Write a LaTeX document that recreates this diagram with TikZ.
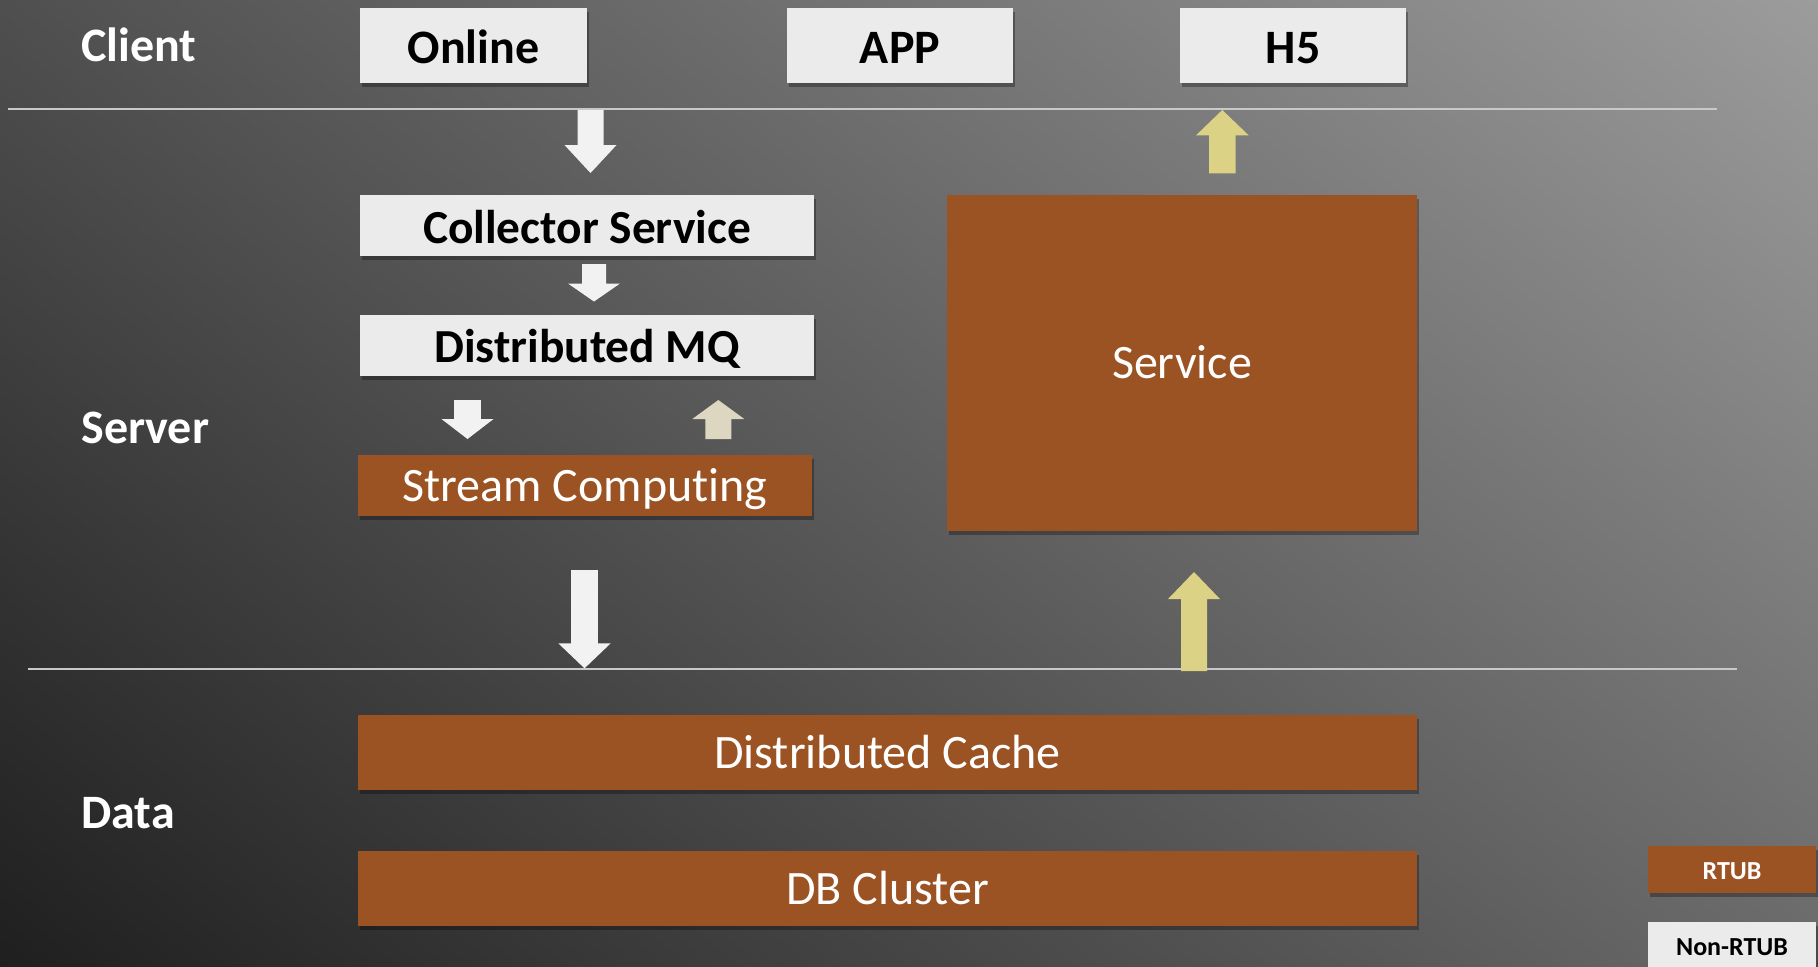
\documentclass[tikz,border=0pt]{standalone}
\usepackage{fontspec}
\setmainfont{Carlito}[Ligatures={NoCommon,NoRare}]
\usetikzlibrary{shadows,shadings}
\definecolor{bgTL}{HTML}{4F4F4F}
\definecolor{bgTR}{HTML}{9C9C9C}
\definecolor{bgBL}{HTML}{1F1F1F}
\definecolor{bgBR}{HTML}{6A6A6A}
\definecolor{rtub}{HTML}{9C5324}
\definecolor{nonrtub}{HTML}{EBEBEB}
\definecolor{warrow}{HTML}{F2F2F2}
\definecolor{yarrow}{HTML}{DCD285}
\definecolor{barrow}{HTML}{DDD7C2}
\definecolor{sepline}{HTML}{C9C9C9}
\newcommand{\blockarrow}[7]{% color, cx, ytail, yheadbase, ytip, shaft half, head half
  \fill[#1] ({#2-#6},#3) -- ({#2+#6},#3) -- ({#2+#6},#4) -- ({#2+#7},#4) -- (#2,#5)
    -- ({#2-#7},#4) -- ({#2-#6},#4) -- cycle;}
\tikzset{
  boxbase/.style={inner sep=0pt, outer sep=0pt, text depth=0pt,
    drop shadow={shadow xshift=0.8pt, shadow yshift=-2.2pt, opacity=0.3, fill=black}},
  lightbox/.style={boxbase, fill=nonrtub, text=black, font=\bfseries\fontsize{24}{28}\selectfont},
  brownbox/.style={boxbase, fill=rtub, text=white, font=\fontsize{24}{28}\selectfont},
  tierlabel/.style={anchor=base west, inner sep=0pt, text=white, font=\bfseries\fontsize{24}{28}\selectfont},
  sep/.style={draw=sepline, line width=1.3pt},
}
\begin{document}
\begin{tikzpicture}[x=0.5pt, y=-0.5pt]
\useasboundingbox (0,0) rectangle (1818,966);
\clip (0,0) rectangle (1818,966);
\shade[upper left=bgTL, upper right=bgTR, lower left=bgBL, lower right=bgBR] (0,0) rectangle (1818,966);

% tier labels
\node[tierlabel] (client) at (81,61.5) {Client};
\node[tierlabel] (server) at (81,443) {Server};
\node[tierlabel] (data) at (81,828) {Data};

% separators
\coordinate (l1a) at (8,109);  \coordinate (l1b) at (1717,109);
\coordinate (l2a) at (28,669); \coordinate (l2b) at (1737,669);
\draw[sep] (l1a) -- (l1b);
\draw[sep] (l2a) -- (l2b);

% client row
\node[lightbox, minimum width=113.5pt, minimum height=37.5pt, text height=17.5pt] (online) at (473.5,45.5) {Online};
\node[lightbox, minimum width=113pt, minimum height=37.5pt, text height=17.5pt] (app) at (900,45.5) {APP};
\node[lightbox, minimum width=113pt, minimum height=37.5pt, text height=17.5pt] (h5) at (1293,45.5) {H5};

% server
\node[lightbox, font=\bfseries\fontsize{23.7}{28}\selectfont, minimum width=227pt, minimum height=30.5pt, text height=18pt] (collector) at (587,225.5) {Collector Service};
\node[lightbox, font=\bfseries\fontsize{23.7}{28}\selectfont, minimum width=227pt, minimum height=30.5pt, text height=17pt] (mq) at (587,345.5) {Distributed MQ};
\node[brownbox, minimum width=227pt, minimum height=30.5pt, text height=16pt] (stream) at (585,485.5) {Stream Computing};
\node[brownbox, minimum width=235pt, minimum height=168pt, text height=15.5pt] (service) at (1182,363) {Service};

% data
\node[brownbox, minimum width=529.5pt, minimum height=37.5pt, text height=15.5pt] (cache) at (887.5,752.5) {Distributed Cache};
\node[brownbox, minimum width=529.5pt, minimum height=37.5pt, text height=15.5pt] (db) at (887.5,888.5) {DB Cluster};

% legend
\node[boxbase, fill=rtub, text=white, font=\bfseries\fontsize{13}{15}\selectfont, minimum width=84pt, minimum height=23.5pt, text height=9.5pt] (legrtub) at (1732,869.5) {RTUB};
\node[boxbase, fill=nonrtub, text=black, font=\bfseries\fontsize{13}{15}\selectfont, minimum width=84pt, minimum height=23.5pt, text height=9.5pt] (legnon) at (1732,945.5) {Non-RTUB};

% block arrows
\blockarrow{warrow}{590.5}{110}{145}{173}{13}{26}
\blockarrow{warrow}{594}{264}{283.5}{301.5}{12}{26}
\blockarrow{warrow}{467.5}{400}{419}{439}{13.3}{26}
\blockarrow{barrow}{718.3}{439}{419}{400}{13}{26}
\blockarrow{yarrow}{1222.3}{173.3}{135.3}{110}{13.3}{26.3}
\blockarrow{warrow}{584.5}{570}{643.3}{668.3}{13.3}{26.2}
\blockarrow{yarrow}{1194}{671}{599}{572}{13}{26}
\end{tikzpicture}
\end{document}
